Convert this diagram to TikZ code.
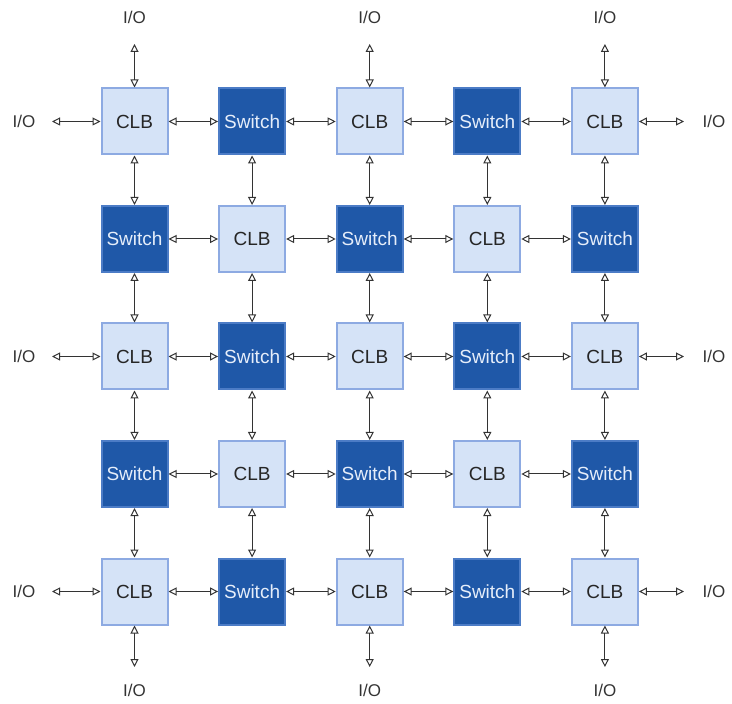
\documentclass[tikz,border=0pt]{standalone}
\usepackage{fontspec}
\setmainfont{Liberation Sans}
\usetikzlibrary{arrows.meta}
\definecolor{clbfill}{HTML}{D5E3F7}
\definecolor{clbdraw}{HTML}{8DAAE2}
\definecolor{swfill}{HTML}{1F58A8}
\definecolor{swdraw}{HTML}{4C7CC6}
\definecolor{swtext}{HTML}{E6EEFA}
\definecolor{linec}{HTML}{333333}
\begin{document}
\begin{tikzpicture}[x=0.5pt,y=-0.5pt,
  clb/.style={draw=clbdraw,fill=clbfill,line width=1pt,minimum size=33pt,inner sep=0pt,font=\fontsize{9.5}{11}\selectfont,text=black!85},
  sw/.style={draw=swdraw,fill=swfill,line width=1pt,minimum size=33pt,inner sep=0pt,font=\fontsize{9.5}{11}\selectfont,text=swtext},
  io/.style={font=\fontsize{8.5}{10}\selectfont,inner sep=0pt,text=black!80},
  conn/.style={draw=linec,line width=0.5pt,{Triangle[open,length=4pt,width=4pt]}-{Triangle[open,length=4pt,width=4pt]}}
]
\useasboundingbox (0,0) rectangle (732,704);
\foreach \i in {0,...,4}{
  \foreach \j in {0,...,4}{
    \pgfmathtruncatemacro\s{mod(\i+\j,2)}
    \ifnum\s=0
      \node[clb] (n\i\j) at ({134.5+117.6*\i},{121.5+117.5*\j}) {CLB};
    \else
      \node[sw] (n\i\j) at ({134.5+117.6*\i},{121.5+117.5*\j}) {Switch};
    \fi
  }
}
\foreach \i in {0,...,3}{
  \foreach \j in {0,...,4}{
    \pgfmathtruncatemacro\ii{\i+1}
    \draw[conn] (n\i\j) -- (n\ii\j);
    \draw[conn] (n\j\i) -- (n\j\ii);
  }
}
\foreach \k in {0,2,4}{
  % top
  \coordinate (t\k) at ({134.5+117.6*\k},44);
  \node[io] (T\k) at ({134.5+117.6*\k},17) {I/O};
  \draw[conn] (n\k0) -- (t\k);
  % bottom
  \coordinate (b\k) at ({134.5+117.6*\k},667);
  \node[io] (B\k) at ({134.5+117.6*\k},690) {I/O};
  \draw[conn] (n\k4) -- (b\k);
  % left
  \coordinate (l\k) at (52,{121.5+117.5*\k});
  \node[io] (L\k) at (24,{121.5+117.5*\k}) {I/O};
  \draw[conn] (n0\k) -- (l\k);
  % right
  \coordinate (r\k) at (684,{121.5+117.5*\k});
  \node[io] (R\k) at (714,{121.5+117.5*\k}) {I/O};
  \draw[conn] (n4\k) -- (r\k);
}
\end{tikzpicture}
\end{document}
